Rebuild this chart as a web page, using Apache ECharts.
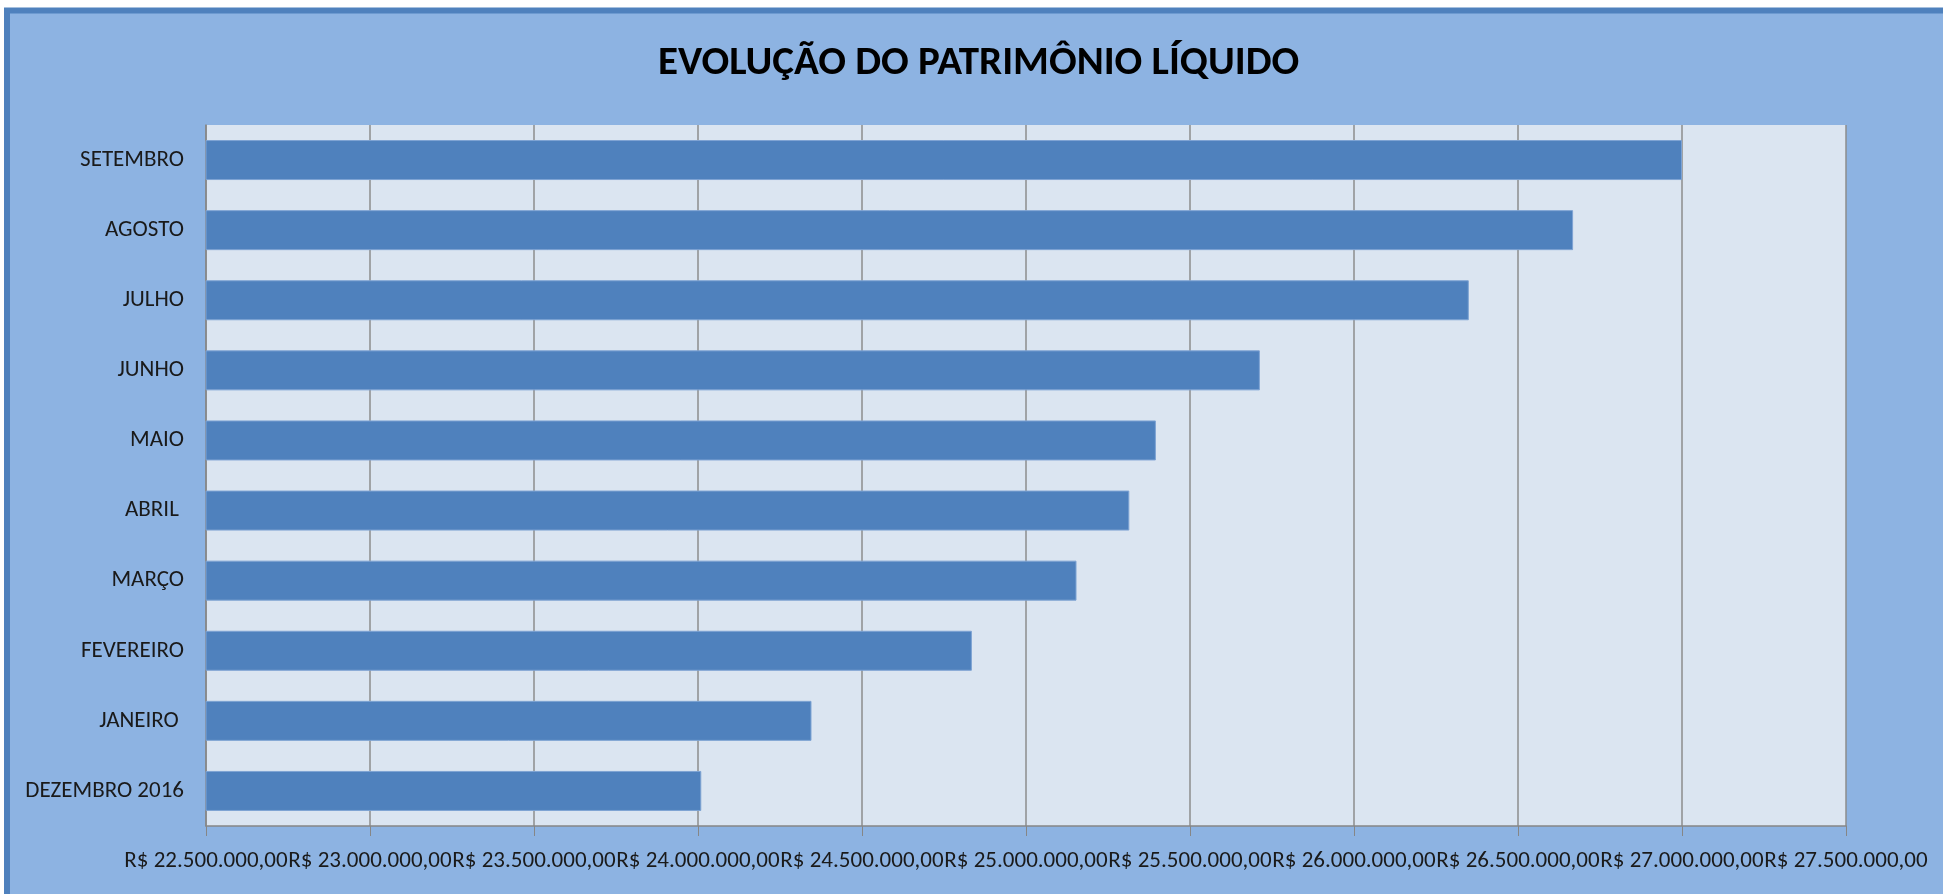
<!DOCTYPE html>
<html>
<head>
<meta charset="utf-8">
<script src="https://cdn.jsdelivr.net/npm/echarts@6/dist/echarts.min.js"></script>
<style>
html,body{margin:0;padding:0;background:#ffffff;}
#chart{width:1943px;height:894px;}
</style>
</head>
<body>
<div id="chart"></div>
<script>
const titleText = 'EVOLUÇÃO DO PATRIMÔNIO LÍQUIDO';
const categories = ['DEZEMBRO 2016', 'JANEIRO ', 'FEVEREIRO', 'MARÇO', 'ABRIL ', 'MAIO', 'JUNHO', 'JULHO', 'AGOSTO', 'SETEMBRO'];
const values = [24010000, 24346000, 24835000, 25154000, 25315000, 25396000, 25713000, 26350000, 26668000, 27000000];
const axisMin = 22500000;
const axisMax = 27500000;
const axisStep = 500000;

const FONT = 'Carlito, "Liberation Sans Narrow", "Liberation Sans", sans-serif';

function brl(v) {
  const s = Math.round(v).toString();
  const withDots = s.replace(/\B(?=(\d{3})+(?!\d))/g, '.');
  return 'R$ ' + withDots + ',00';
}

const chart = echarts.init(document.getElementById('chart'), null, {renderer: 'canvas'});
chart.setOption({
  backgroundColor: '#ffffff',
  animation: false,
  graphic: [{
    type: 'rect',
    z: -10,
    silent: true,
    shape: {x: 7, y: 10.5, width: 1960, height: 900},
    style: {fill: '#8db3e2', stroke: '#4f81bd', lineWidth: 6}
  }],
  title: {
    text: titleText,
    left: 658,
    top: 43,
    padding: 0,
    textStyle: {fontFamily: FONT, fontWeight: 'bold', fontSize: 41, color: '#000000'}
  },
  grid: {left: 206, right: 97, top: 125, bottom: 68, containLabel: false,
         show: true, backgroundColor: '#dbe5f1', borderWidth: 0},
  xAxis: {
    type: 'value',
    min: axisMin, max: axisMax, interval: axisStep,
    axisLine: {show: true, lineStyle: {color: '#868686', width: 1.5}},
    axisTick: {show: true, length: 10, lineStyle: {color: '#868686'}},
    splitLine: {show: true, lineStyle: {color: '#8c8c8c', width: 1.5}},
    axisLabel: {formatter: brl, fontFamily: FONT, fontSize: 23, color: '#1a1a1a', margin: 24, hideOverlap: false}
  },
  yAxis: {
    type: 'category',
    data: categories,
    axisLine: {show: true, lineStyle: {color: '#868686', width: 1.5}},
    axisTick: {show: false},
    axisLabel: {fontFamily: FONT, fontSize: 23, color: '#1a1a1a', margin: 22}
  },
  series: [{
    type: 'bar',
    data: values,
    barWidth: 40,
    itemStyle: {color: '#4f81bd', borderColor: '#7ea3d3', borderWidth: 1}
  }]
});
</script>
</body>
</html>
